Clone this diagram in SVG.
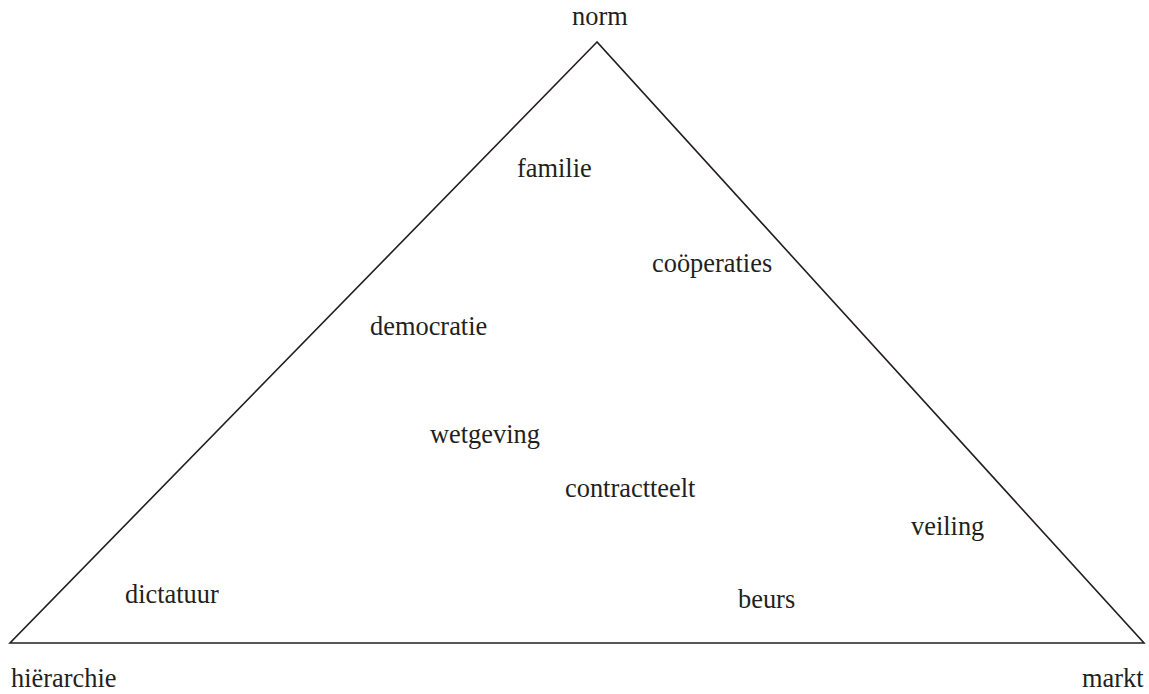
<svg xmlns="http://www.w3.org/2000/svg" width="1149" height="694" viewBox="0 0 1149 694">
  <style>
    .edge { fill: none; stroke: #231f20; stroke-width: 1.6; }
  </style>
  <rect width="1149" height="694" fill="#ffffff"/>
  <g id="connectors">
    <polygon class="edge" points="597,42 10,643 1144,643"/>
  </g>
  <g font-family="Liberation Serif" font-size="26.4" fill="#231f20">
    <g id="norm"><text x="572" y="25">norm</text></g>
    <g id="hierarchie"><text x="11" y="687">hiërarchie</text></g>
    <g id="markt"><text x="1082" y="687">markt</text></g>
    <g id="familie"><text x="517" y="177">familie</text></g>
    <g id="cooperaties"><text x="652" y="272">coöperaties</text></g>
    <g id="democratie"><text x="370" y="335">democratie</text></g>
    <g id="wetgeving"><text x="430" y="443">wetgeving</text></g>
    <g id="contractteelt"><text x="565" y="497">contractteelt</text></g>
    <g id="veiling"><text x="911" y="535">veiling</text></g>
    <g id="dictatuur"><text x="125" y="603">dictatuur</text></g>
    <g id="beurs"><text x="738" y="608">beurs</text></g>
  </g>
</svg>
